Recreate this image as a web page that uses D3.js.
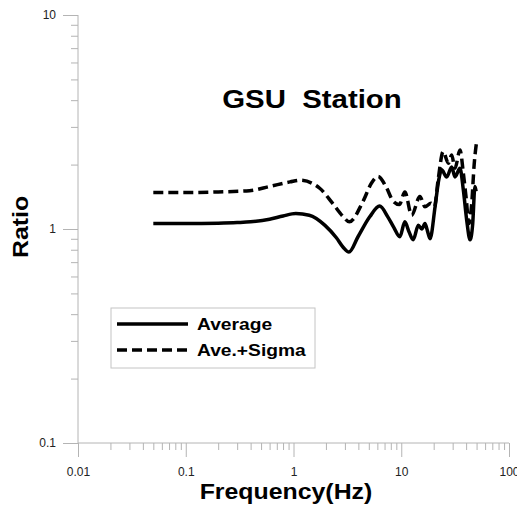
<!DOCTYPE html>
<html>
<head>
<meta charset="utf-8">
<script src="https://cdn.jsdelivr.net/npm/d3@7"></script>
<style>
  body { margin: 0; background: #fff; }
  svg { display: block; font-family: "Liberation Sans", Arial, sans-serif; }
</style>
</head>
<body>
<div class="chart"></div>
<script>
// Average curve
const avgFreq  = [0.05, 0.1, 0.2, 0.3, 0.4, 0.6, 0.8, 1.05, 1.4, 1.96, 2.5, 2.9, 3.27, 3.97, 5.1, 6.3, 7.5, 8.5, 9.7, 10.8, 11.8, 12.9, 14.4, 15.5, 16.6, 17.5, 18.5, 20.6, 22.3, 23.7, 26.4, 29.4, 31.5, 35.1, 37.7, 40.5, 43.5, 46, 48.3, 49.5]
const avgRatio = [1.06, 1.06, 1.065, 1.072, 1.08, 1.11, 1.15, 1.18, 1.16, 1.04, 0.91, 0.82, 0.78, 0.92, 1.14, 1.28, 1.14, 1.02, 0.92, 1.08, 0.97, 0.89, 1.04, 1.0, 1.06, 0.98, 0.90, 1.27, 1.7, 1.89, 1.75, 1.95, 1.75, 1.92, 1.52, 1.1, 0.89, 1.05, 1.58, 1.5]

// Ave.+Sigma curve
const sigFreq  = [0.05, 0.1, 0.2, 0.39, 0.6, 0.93, 1.15, 1.75, 2.3, 2.9, 3.3, 4.4, 5.3, 6.1, 7.2, 8.4, 9.6, 10.8, 12.5, 14.9, 16.6, 18.9, 20.3, 22.0, 24.5, 27.4, 29.4, 31.5, 35.1, 37.7, 40.0, 42.5, 45.0, 47.5, 50]
const sigRatio = [1.48, 1.48, 1.49, 1.51, 1.58, 1.66, 1.69, 1.55, 1.32, 1.14, 1.08, 1.34, 1.64, 1.76, 1.58, 1.35, 1.30, 1.49, 1.16, 1.42, 1.27, 1.32, 1.27, 1.7, 2.30, 2.03, 2.22, 1.92, 2.34, 1.82, 1.4, 1.06, 1.3, 2.0, 2.55]

// Axis ticks
const xMajor = [0.01, 0.1, 1, 10, 100]
const xLabels = ["0.01", "0.1", "1", "10", "100"]
const yMajor = [0.1, 1, 10]
const yLabels = ["0.1", "1", "10"]
const legendNames = ["Average", "Ave.+Sigma"]

const W = 517, H = 507
const stretch = 1.13  // source picture is a bit wider than tall

const svg = d3.select(".chart").append("svg")
    .attr("width", W)
    .attr("height", H)

const xScale = d3.scaleLog()
    .domain([0.01, 100])
    .range([78, 509])

const yScale = d3.scaleLog()
    .domain([0.1, 10])
    .range([443, 15])

// minor ticks 2..9 per decade
const minorVals = (lo, hi) => {
    let out = []
    for (let d = lo; d < hi * 0.999; d *= 10)
        for (let k = 2; k <= 9; k++) out.push(d * k)
    return out
}

const axisColor = "#b4b4b4"

// X axis: minor, then major with labels
svg.append("g")
    .attr("transform", `translate(0, 443)`)
    .call(d3.axisBottom(xScale).tickValues(minorVals(0.01, 100)).tickSize(7).tickFormat(""))
svg.append("g")
    .attr("class", "axis x-axis")
    .attr("transform", `translate(0, 443)`)
    .call(d3.axisBottom(xScale).tickValues(xMajor).tickSize(14).tickPadding(10)
        .tickFormat((d, i) => xLabels[i]))

// Y axis
svg.append("g")
    .attr("transform", `translate(78, 0)`)
    .call(d3.axisLeft(yScale).tickValues(minorVals(0.1, 10)).tickSize(7).tickFormat(""))
svg.append("g")
    .attr("class", "axis y-axis")
    .attr("transform", `translate(78, 0)`)
    .call(d3.axisLeft(yScale).tickValues(yMajor).tickSize(15).tickPadding(7)
        .tickFormat((d, i) => yLabels[i]))

svg.selectAll(".tick line").attr("stroke", axisColor)
svg.selectAll(".tick text")
    .attr("fill", "#222")
    .style("font-size", "12px")
    .style("font-family", "'Liberation Sans', Arial, sans-serif")

// plain domain lines without end caps
svg.selectAll(".domain").remove()
svg.append("line")
    .attr("x1", xScale(0.01)).attr("x2", xScale(0.01))
    .attr("y1", yScale(10)).attr("y2", yScale(0.1))
    .attr("stroke", axisColor)
svg.append("line")
    .attr("x1", xScale(0.01)).attr("x2", xScale(100))
    .attr("y1", yScale(0.1)).attr("y2", yScale(0.1))
    .attr("stroke", axisColor)

// helper for bold stretched text
function boldText(x, y, str, size) {
    let t = svg.append("text")
        .attr("x", x)
        .attr("y", y)
        .attr("text-anchor", "middle")
        .style("font-size", size + "px")
        .style("font-weight", "bold")
        .style("white-space", "pre")
        .attr("fill", "#000")
        .text(str)
    let len = t.node().getComputedTextLength()
    t.attr("textLength", len * stretch).attr("lengthAdjust", "spacingAndGlyphs")
    return t
}

boldText(312, 108, "GSU  Station", 26)
boldText(286, 499, "Frequency(Hz)", 22)
boldText(0, 0, "Ratio", 22)
    .attr("transform", "translate(28,227) rotate(-90)")

// curves
const avgData = avgFreq.map((f, i) => [f, avgRatio[i]])
const sigData = sigFreq.map((f, i) => [f, sigRatio[i]])

const line = d3.line()
    .x(d => xScale(d[0]))
    .y(d => yScale(d[1]))
    .curve(d3.curveMonotoneX)

svg.append("path")
    .datum(avgData)
    .attr("d", line)
    .attr("fill", "none")
    .attr("stroke", "#000")
    .attr("stroke-width", 3.5)
    .attr("stroke-linejoin", "round")

svg.append("path")
    .datum(sigData)
    .attr("d", line)
    .attr("fill", "none")
    .attr("stroke", "#000")
    .attr("stroke-width", 3.5)
    .attr("stroke-dasharray", "10,5")

// legend
let legend = svg.append("g")
    .attr("class", "legend")
    .attr("transform", "translate(111,308)")

legend.append("rect")
    .attr("width", 204)
    .attr("height", 60)
    .attr("fill", "#fff")
    .attr("stroke", "#c4c4c4")

legend.selectAll("line")
    .data(legendNames)
    .enter()
    .append("line")
        .attr("x1", 6)
        .attr("x2", 77)
        .attr("y1", (_, i) => 16 + 26 * i)
        .attr("y2", (_, i) => 16 + 26 * i)
        .attr("stroke", "#000")
        .attr("stroke-width", 3.5)
        .attr("stroke-dasharray", (_, i) => i ? "10,5" : null)

legendNames.forEach((name, i) => {
    let t = legend.append("text")
        .attr("x", 86)
        .attr("y", 22 + 26 * i)
        .style("font-size", "17px")
        .style("font-weight", "bold")
        .text(name)
    let len = t.node().getComputedTextLength()
    t.attr("textLength", len * stretch).attr("lengthAdjust", "spacingAndGlyphs")
})
</script>
</body>
</html>
